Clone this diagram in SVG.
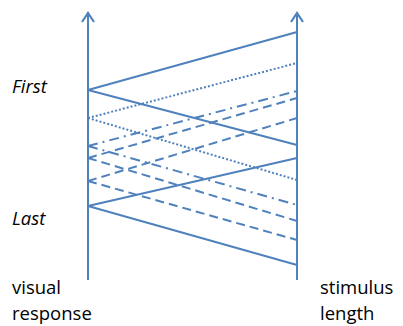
<svg xmlns="http://www.w3.org/2000/svg" width="403" height="326" viewBox="0 0 403 326">
<style>
.ln{stroke:#4f81bd;stroke-width:2;fill:none}
.dot{stroke-dasharray:2 2}
.dd{stroke-dasharray:10 5 2 5}
.da{stroke-dasharray:9 5}
.t{font-family:"Open Sans","Liberation Sans",sans-serif;font-size:18.5px;fill:#000}
.i{font-style:italic}
</style>
<defs>
<path id="arr" d="M-6 10 L0 1 L6 10" fill="none" stroke="#4f81bd" stroke-width="2.2" stroke-linejoin="miter"/>
</defs>
<g id="axes">
<line class="ln" x1="88" y1="280" x2="88" y2="13"/>
<use href="#arr" x="88" y="12"/>
<line class="ln" x1="297" y1="280" x2="297" y2="13"/>
<use href="#arr" x="297" y="12"/>
</g>
<g id="connectors">
<line class="ln" x1="88" y1="90" x2="297" y2="32"/>
<line class="ln" x1="88" y1="90" x2="297" y2="145"/>
<line class="ln dot" x1="88" y1="118" x2="297" y2="63"/>
<line class="ln dot" x1="88" y1="118" x2="297" y2="180"/>
<line class="ln dd" x1="88" y1="146" x2="297" y2="91"/>
<line class="ln dd" x1="88" y1="146" x2="297" y2="205"/>
<line class="ln da" x1="88" y1="158" x2="297" y2="98"/>
<line class="ln da" x1="88" y1="158" x2="297" y2="221"/>
<line class="ln da" x1="88" y1="181" x2="297" y2="118"/>
<line class="ln da" x1="88" y1="181" x2="297" y2="240"/>
<line class="ln" x1="88" y1="206" x2="297" y2="158"/>
<line class="ln" x1="88" y1="206" x2="297" y2="265"/>
</g>
<g id="labels">
<text class="t i" x="12" y="93">First</text>
<text class="t i" x="12" y="225">Last</text>
<text class="t" x="12" y="294">visual</text>
<text class="t" x="12" y="320">response</text>
<text class="t" x="320" y="294">stimulus</text>
<text class="t" x="320" y="320">length</text>
</g>
</svg>
